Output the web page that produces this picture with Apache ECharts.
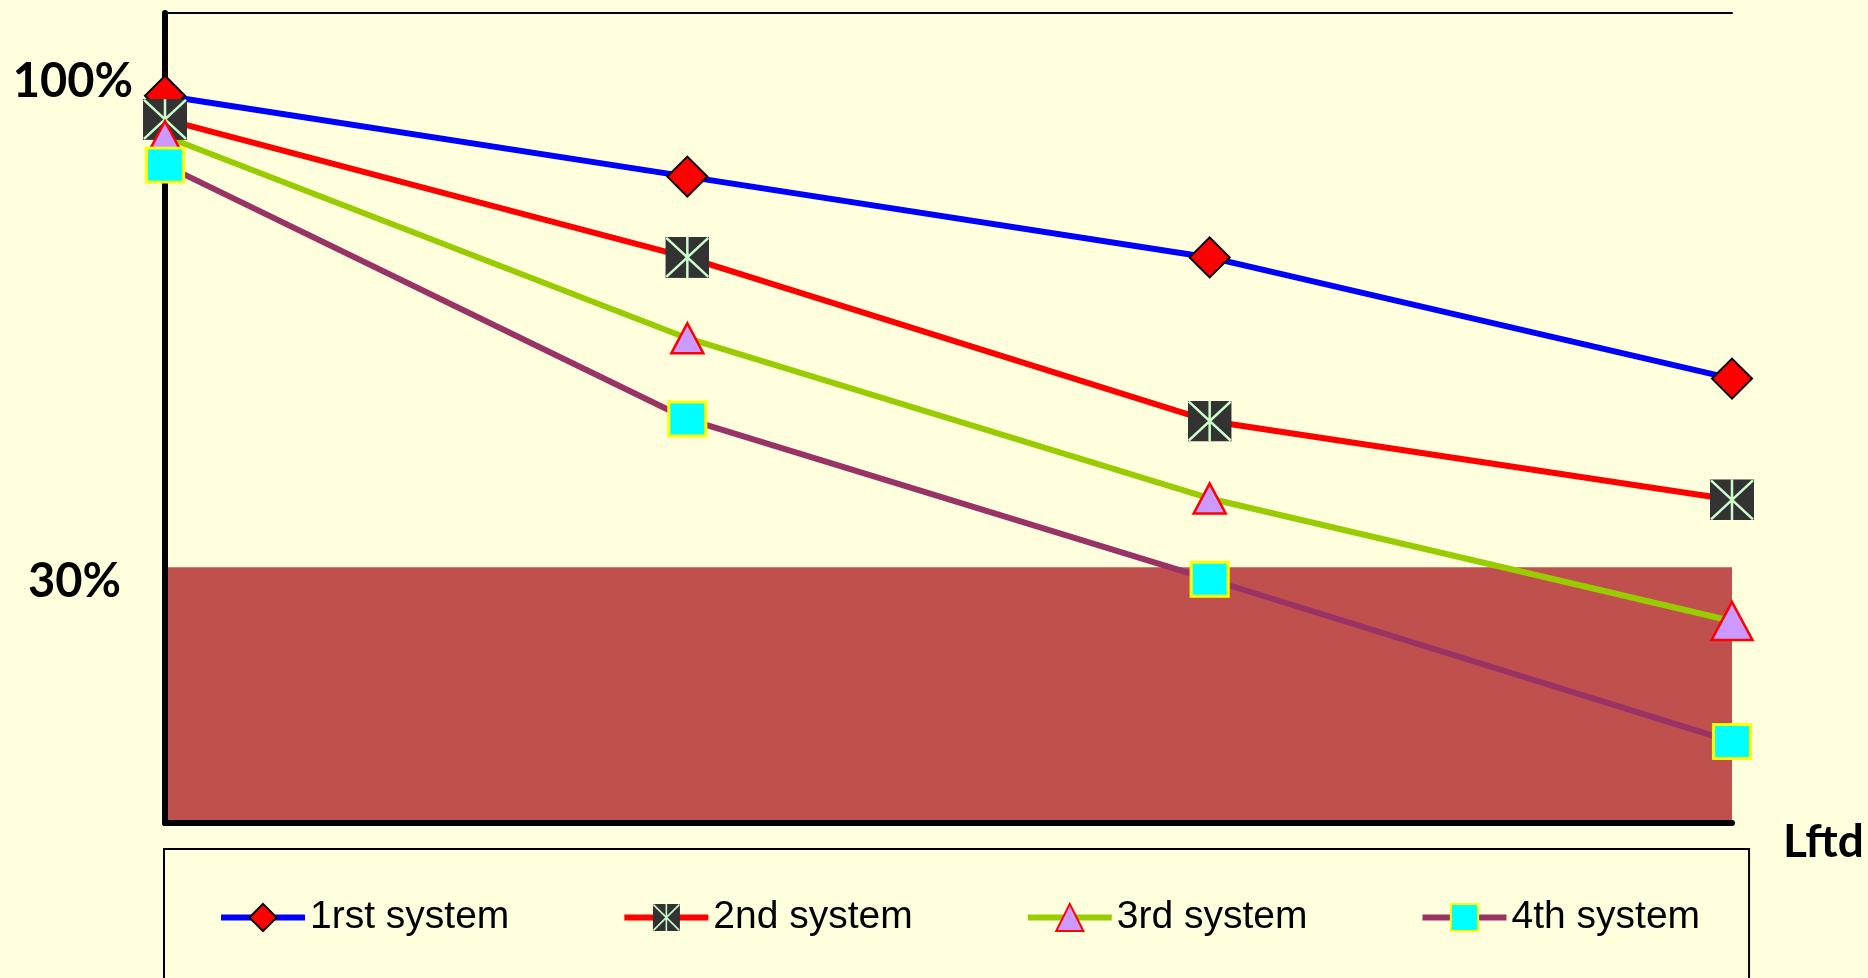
<!DOCTYPE html>
<html>
<head>
<meta charset="utf-8">
<title>Systems</title>
<script src="https://cdn.jsdelivr.net/npm/echarts@6/dist/echarts.min.js"></script>
<style>
  html, body { margin: 0; padding: 0; background: #FFFFDD; }
  #chart { width: 1868px; height: 978px; }
</style>
</head>
<body>
<div id="chart"></div>
<script>
// Stages along the horizontal axis (not labelled on the chart)
const categories = ['T1', 'T2', 'T3', 'T4'];

// Share (%) remaining for each system at each stage
const system1 = [100, 88, 76, 58];
const system2 = [96.5, 76, 51.7, 40];
const system3 = [94, 64, 40.2, 22];
const system4 = [89.7, 52, 28.2, 4.1];

const seriesNames = ['1rst system', '2nd system', '3rd system', '4th system'];
const yTickValues = [30, 100];
const threshold = 30;
const yMin = -8;
const yMax = 112.3;
const xAxisTitle = 'Lftd';

// Dark square with a light asterisk, used by the 2nd system
const crossBoxSvg =
  '<svg xmlns="http://www.w3.org/2000/svg" width="44" height="41" viewBox="0 0 44 41">' +
  '<rect width="44" height="41" fill="#333333"/>' +
  '<path d="M1 1L43 40M43 1L1 40M22 0V41" stroke="#CCFFCC" stroke-width="2.5" fill="none"/>' +
  '</svg>';
const crossBoxSymbol = 'image://data:image/svg+xml;charset=utf-8,' + encodeURIComponent(crossBoxSvg);

const chart = echarts.init(document.getElementById('chart'), null, { renderer: 'canvas' });

const boldFont = 'Lato';

chart.setOption({
  backgroundColor: '#FFFFDD',
  animation: false,
  grid: { left: 165, right: 136, top: 13, bottom: 155, containLabel: false },
  xAxis: [
    {
      type: 'category',
      data: categories,
      boundaryGap: false,
      z: 2,
      axisLine: { show: true, onZero: false, lineStyle: { color: '#000', width: 6 } },
      axisTick: { show: false },
      axisLabel: { show: false },
      splitLine: { show: false },
      name: '{t|' + xAxisTitle + '}',
      nameLocation: 'end',
      nameGap: 51,
      nameTextStyle: {
        rich: {
          t: { fontFamily: boldFont, fontWeight: 'bold', fontSize: 46, color: '#000', padding: [38, 0, 0, 0] }
        }
      }
    },
    {
      type: 'category',
      data: categories,
      boundaryGap: false,
      position: 'top',
      z: 2,
      axisLine: { show: true, onZero: false, lineStyle: { color: '#000', width: 2 } },
      axisTick: { show: false },
      axisLabel: { show: false },
      splitLine: { show: false }
    }
  ],
  yAxis: {
    type: 'value',
    min: yMin,
    max: yMax,
    z: 2,
    axisLine: { show: true, onZero: false, lineStyle: { color: '#000', width: 6 } },
    axisTick: { show: false },
    splitLine: { show: false },
    axisLabel: {
      customValues: yTickValues,
      margin: 32,
      formatter: function (v) {
        return v === 100 ? '{hi|' + v + '%}' : '{lo|' + v + '%}';
      },
      rich: {
        hi: { fontFamily: boldFont, fontWeight: 'bold', fontSize: 47, color: '#000', padding: [0, 0, 28, 0] },
        lo: { fontFamily: boldFont, fontWeight: 'bold', fontSize: 47, color: '#000', padding: [30, 12, 0, 0] }
      }
    }
  },
  legend: {
    left: 164,
    top: 849,
    padding: [49, 49, 100, 54],
    borderColor: '#000',
    borderWidth: 2,
    itemWidth: 84,
    itemHeight: 34,
    itemGap: 112,
    data: seriesNames,
    lineStyle: { width: 6 },
    textStyle: { fontFamily: 'Liberation Sans', fontSize: 39, color: '#000' }
  },
  series: [
    {
      name: seriesNames[0],
      type: 'line',
      data: system1,
      z: 3,
      symbol: 'diamond',
      symbolSize: 40,
      lineStyle: { color: '#0000FF', width: 6 },
      itemStyle: { color: '#FF0000', borderColor: '#000', borderWidth: 2 },
      markArea: {
        silent: true,
        z: 1,
        itemStyle: { color: '#C0504D' },
        data: [[{ xAxis: categories[0], yAxis: threshold }, { xAxis: categories[categories.length - 1], yAxis: yMin }]]
      }
    },
    {
      name: seriesNames[1],
      type: 'line',
      data: system2,
      z: 3,
      symbol: crossBoxSymbol,
      symbolSize: [44, 41],
      lineStyle: { color: '#FF0000', width: 6 },
      itemStyle: { color: '#333333' }
    },
    {
      name: seriesNames[2],
      type: 'line',
      data: system3,
      z: 3,
      symbol: 'triangle',
      symbolSize: function (val, params) {
        return params.dataIndex === categories.length - 1 ? [41, 38] : [32, 30];
      },
      lineStyle: { color: '#99CC00', width: 6 },
      itemStyle: { color: '#CC99FF', borderColor: '#FF0000', borderWidth: 2.5 }
    },
    {
      name: seriesNames[3],
      type: 'line',
      data: system4,
      z: 3,
      symbol: 'rect',
      symbolSize: [37, 34],
      lineStyle: { color: '#993366', width: 6 },
      itemStyle: { color: '#00FFFF', borderColor: '#FFFF00', borderWidth: 3 }
    }
  ]
});
</script>
</body>
</html>
